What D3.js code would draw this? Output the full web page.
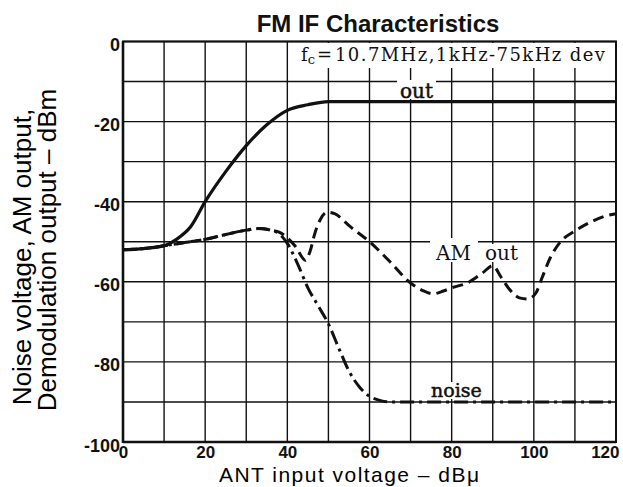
<!DOCTYPE html>
<html><head><meta charset="utf-8">
<script src="https://cdn.jsdelivr.net/npm/d3@7"></script>
<style>body{margin:0;background:#fff}svg{display:block}</style>
</head><body>
<svg id="c" width="623" height="487"></svg>
<script>
// ---- data ----
const xTicks = [0, 20, 40, 60, 80, 100, 120];
const yTicks = [0, -20, -40, -60, -80, -100];
const xGrid = d3.range(0, 121, 10);
const yGrid = d3.range(-100, 1, 10);

const outX = [0, 5, 10, 13, 16.5, 20, 25, 30, 35, 40, 45, 50, 60, 80, 100, 120];
const outY = [-52, -51.7, -51, -49.4, -46.2, -40, -32.5, -26, -20.8, -17.2, -15.8, -15, -15, -15, -15, -15];

const noiseX = [0, 5, 10, 15, 20, 25, 30, 33, 36, 38, 40, 42.5, 45, 47.5, 50, 52.5, 55, 57.5, 60, 62.5, 65, 80, 100, 120];
const noiseY = [-52, -51.7, -51, -50.2, -49.4, -48.2, -47.1, -46.7, -47.1, -48, -50.4, -55.5, -61.5, -66, -70.5, -76.5, -82.3, -86.2, -88.6, -89.6, -90, -90, -90, -90];

const amX = [0, 5, 10, 15, 20, 25, 30, 33, 36, 38, 40, 42, 44.4, 45.5, 46.7, 48, 49.7, 51.5, 55.4, 60, 65, 70, 73, 75.5, 78, 80, 84, 87.5, 90, 92, 94, 96.5, 98.5, 100.5, 102, 104, 106.5, 110, 114, 118, 120];
const amY = [-52, -51.7, -51, -50.2, -49.4, -48.2, -47.1, -46.7, -47.1, -47.6, -49, -51.2, -54.6, -52.5, -47.9, -44.5, -42.6, -43, -46.3, -50, -55, -60.3, -62.2, -63, -62.3, -61.5, -60.2, -57.8, -56, -58.8, -61.8, -64, -64.3, -62.8, -59, -54, -50, -47.3, -45, -43.4, -43];

const titleText = "FM IF Characteristics";
const xTitle = "ANT input voltage – dBμ";
const yTitle1 = "Noise voltage, AM output,";
const yTitle2 = "Demodulation output – dBm";

// ---- drawing ----
const svg = d3.select("#c");
const L = 123, R = 616, T = 41.5, B = 442;
const x = d3.scaleLinear().domain([0, 120]).range([L, R]);
const y = d3.scaleLinear().domain([-100, 0]).range([B, T]);
const ink = "#111";

// grid
const g = svg.append("g");
g.selectAll("line.v").data(xGrid).join("line")
  .attr("x1", d => x(d)).attr("x2", d => x(d)).attr("y1", T).attr("y2", B)
  .attr("stroke", ink).attr("stroke-width", 1.4);
g.selectAll("line.h").data(yGrid).join("line")
  .attr("y1", d => y(d)).attr("y2", d => y(d)).attr("x1", L).attr("x2", R)
  .attr("stroke", ink).attr("stroke-width", 1.4);

// label backgrounds (hide grid under texts)
const bg = svg.append("g").attr("fill", "#fff");
bg.append("rect").attr("x", x(40) + 1.5).attr("y", T + 1.5).attr("width", R - x(40) - 3).attr("height", 25);
bg.append("rect").attr("x", 397).attr("y", 80).attr("width", 39).attr("height", 19);
bg.append("rect").attr("x", 430).attr("y", 238).attr("width", 48).attr("height", 24);
bg.append("rect").attr("x", 478).attr("y", 244).attr("width", 41).attr("height", 18);
bg.append("rect").attr("x", 429).attr("y", 382).attr("width", 58).attr("height", 17);

// frame
svg.append("rect").attr("x", L).attr("y", T).attr("width", R - L).attr("height", B - T)
  .attr("fill", "none").attr("stroke", ink).attr("stroke-width", 2);
svg.append("line").attr("x1", L).attr("x2", L).attr("y1", T).attr("y2", B + 1)
  .attr("stroke", ink).attr("stroke-width", 2.6);
svg.append("line").attr("x1", L).attr("x2", R).attr("y1", B).attr("y2", B)
  .attr("stroke", ink).attr("stroke-width", 2.6);

// tick labels via d3 axis generators
const tickFont = "'Liberation Sans Narrow','Arial Narrow','Liberation Sans',sans-serif";
const xa = svg.append("g").attr("transform", `translate(0,${B})`)
  .call(d3.axisBottom(x).tickValues(xTicks).tickSize(0).tickPadding(4).tickFormat(d3.format("d")));
xa.select(".domain").remove();
xa.selectAll("text").attr("font-family", tickFont).attr("font-weight", "bold")
  .attr("font-size", 17).attr("fill", ink).attr("dy", "0.71em")
  .attr("text-anchor", d => d === 120 ? "end" : "middle")
  .attr("dx", d => d === 120 ? 3 : 0);
const ya = svg.append("g").attr("transform", `translate(${L},0)`)
  .call(d3.axisLeft(y).tickValues(yTicks).tickSize(0).tickPadding(3).tickFormat(d => d3.format("d")(d).replace("−", "-")));
ya.select(".domain").remove();
ya.selectAll("text").attr("font-family", tickFont).attr("font-weight", "bold")
  .attr("font-size", 18).attr("fill", ink).attr("dy", "0.5em");

// series
const line = (xs, ys) => d3.line().x(i => x(xs[i])).y(i => y(ys[i])).curve(d3.curveMonotoneX)(d3.range(xs.length));
svg.append("path").attr("d", line(amX, amY)).attr("fill", "none").attr("stroke", ink)
  .attr("stroke-width", 3).attr("stroke-dasharray", "11,6");
svg.append("path").attr("d", line(noiseX, noiseY)).attr("fill", "none").attr("stroke", ink)
  .attr("stroke-width", 3).attr("stroke-dasharray", "14,5,3,5");
svg.append("path").attr("d", line(outX, outY)).attr("fill", "none").attr("stroke", ink)
  .attr("stroke-width", 3.2);

// in-plot annotations (serif)
const serif = "'DejaVu Serif','Liberation Serif',serif";
const ann = svg.append("g").attr("font-family", serif).attr("fill", ink);
const t1 = ann.append("text").attr("x", 301).attr("y", 61).attr("font-size", 18);
t1.append("tspan").text("f");
t1.append("tspan").attr("font-size", 13).attr("dy", 3).text("c");
ann.append("text").attr("x", 317).attr("y", 61).attr("font-size", 18).text("=");
ann.append("text").attr("x", 335).attr("y", 61).attr("font-size", 18)
  .attr("textLength", 270).attr("lengthAdjust", "spacing").text("10.7MHz,1kHz-75kHz dev");
ann.append("text").attr("x", 400).attr("y", 98).attr("font-size", 20)
  .attr("stroke", ink).attr("stroke-width", 0.5).text("out");
ann.append("text").attr("x", 436).attr("y", 260).attr("font-size", 20).text("AM");
ann.append("text").attr("x", 485).attr("y", 260).attr("font-size", 20).text("out");
ann.append("text").attr("x", 431).attr("y", 397).attr("font-size", 19)
  .attr("stroke", ink).attr("stroke-width", 0.5).text("noise");

// titles
const sans = "'Liberation Sans',Arial,sans-serif";
svg.append("text").attr("x", 378).attr("y", 32).attr("text-anchor", "middle")
  .attr("font-family", sans).attr("font-weight", "bold").attr("font-size", 24).attr("fill", ink).text(titleText);
svg.append("text").attr("x", 349).attr("y", 481.5).attr("text-anchor", "middle")
  .attr("font-family", sans).attr("font-size", 21).attr("fill", "#000")
  .attr("textLength", 260).attr("lengthAdjust", "spacing").text(xTitle);
svg.append("text").attr("transform", "translate(31,257) rotate(-90)").attr("text-anchor", "middle")
  .attr("font-family", sans).attr("font-size", 26).attr("fill", "#000").text(yTitle1);
svg.append("text").attr("transform", "translate(56,250) rotate(-90)").attr("text-anchor", "middle")
  .attr("font-family", sans).attr("font-size", 26).attr("fill", "#000").text(yTitle2);
</script>
</body></html>
